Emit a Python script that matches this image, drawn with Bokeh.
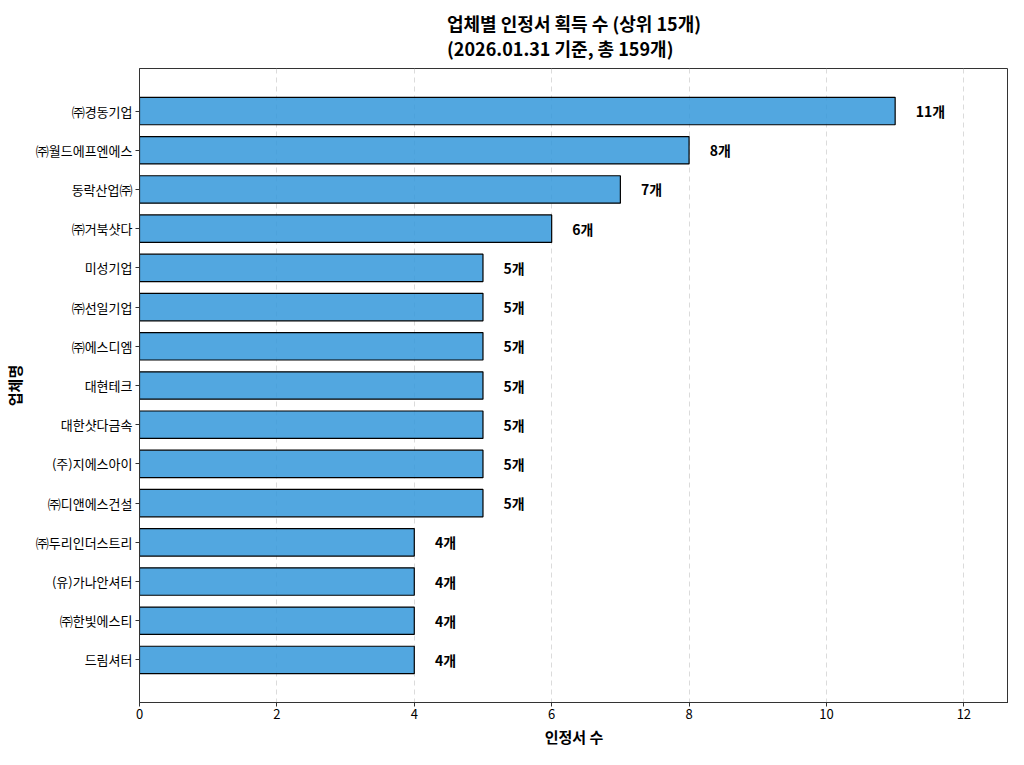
from bokeh.plotting import figure
from bokeh.models import ColumnDataSource, FixedTicker, Range1d, Title
from bokeh.core.properties import value
from bokeh.embed import file_html
from bokeh.resources import INLINE

companies = ["㈜경동기업", "㈜월드에프엔에스", "동락산업㈜", "㈜거북샷다", "미성기업",
             "㈜선일기업", "㈜에스디엠", "대현테크", "대한샷다금속", "(주)지에스아이",
             "㈜디앤에스건설", "㈜두리인더스트리", "(유)가나안셔터", "㈜한빛에스티", "드림셔터"]
counts = [11, 8, 7, 6, 5, 5, 5, 5, 5, 5, 5, 4, 4, 4, 4]
labels = [f"{c}개" for c in counts]
x_ticks = [0, 2, 4, 6, 8, 10, 12]
title_lines = ["업체별 인정서 획득 수 (상위 15개)", "(2026.01.31 기준, 총 159개)"]

FONT = "Noto Sans CJK KR"
pos = list(range(len(companies)))
src = ColumnDataSource(dict(y=pos, right=counts, lx=[c + 0.3 for c in counts], txt=labels))

p = figure(width=1008, height=749, output_backend="svg", toolbar_location=None,
           x_range=Range1d(0, 12.65), y_range=Range1d(len(companies) + 0.085, -1.085),
           min_border_left=125, min_border_right=0, min_border_top=0, min_border_bottom=0)

p.hbar(y="y", right="right", left=0, height=0.7, source=src,
       fill_color="#3498db", fill_alpha=0.85, line_color="black", line_width=1.2)
p.text(x="lx", y="y", text="txt", source=src, text_font=value(FONT),
       text_font_size="14px", text_font_style="bold", text_baseline="middle",
       text_align="left", text_color="black")

p.yaxis.ticker = FixedTicker(ticks=pos)
p.yaxis.major_label_overrides = {i: n for i, n in enumerate(companies)}
p.xaxis.ticker = FixedTicker(ticks=x_ticks)

for ax in (p.xaxis, p.yaxis):
    ax.major_label_text_font = FONT
    ax.major_label_text_font_size = "13px"
    ax.major_label_text_color = "black"
    ax.minor_tick_line_color = None
    ax.major_tick_in = 0
    ax.major_tick_out = 4
    ax.major_tick_line_color = "#333333"
    ax.axis_line_color = "#333333"
    ax.axis_label_text_font = FONT
    ax.axis_label_text_font_size = "15px"
    ax.axis_label_text_font_style = "bold"
    ax.axis_label_text_color = "black"

p.xaxis.axis_label = "인정서 수"
p.yaxis.axis_label = "업체명"
p.xaxis.major_label_standoff = 2
p.xaxis.axis_label_standoff = 4
p.yaxis.major_label_standoff = 3
p.yaxis.axis_label_standoff = 8

p.ygrid.grid_line_color = None
p.xgrid.ticker = FixedTicker(ticks=x_ticks)
p.xgrid.grid_line_color = "#cccccc"
p.xgrid.grid_line_dash = "5 4"
p.xgrid.grid_line_alpha = 0.7

p.outline_line_color = "#333333"
p.outline_line_width = 1

p.add_layout(Title(text="\n".join(title_lines), align="center", text_font=FONT,
                   text_font_size="18px", text_font_style="bold", text_color="black",
                   text_line_height=0.95, standoff=15), "above")

open("out.html", "w").write(file_html(p, INLINE))
